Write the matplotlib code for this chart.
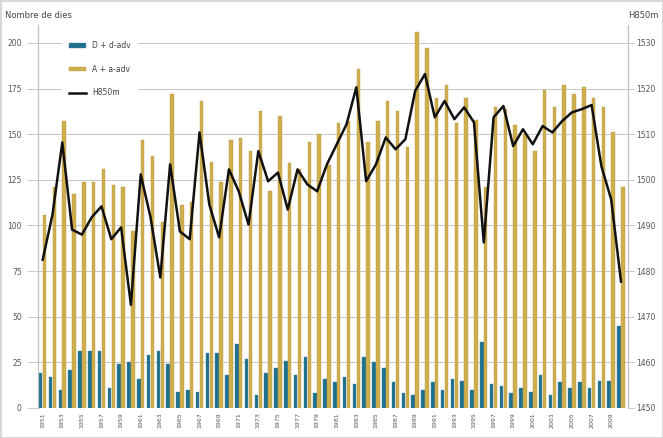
import numpy as np
import matplotlib.pyplot as plt

years = list(range(1951, 2011))

# D + d-adv (dies)
d_adv = [19, 17, 10, 21, 31, 31, 31, 11, 24, 25,
         16, 29, 31, 24, 9, 10, 9, 30, 30, 18,
         35, 27, 7, 19, 22, 26, 18, 28, 8, 16,
         14, 17, 13, 28, 25, 22, 14, 8, 7, 10,
         14, 10, 16, 15, 10, 36, 13, 12, 8, 11,
         9, 18, 7, 14, 11, 14, 11, 15, 15, 45]

# A + a-adv (dies)
a_adv = [106, 121, 157, 117, 124, 124, 131, 122, 121, 97,
         147, 138, 102, 172, 111, 113, 168, 135, 124, 147,
         148, 141, 163, 119, 160, 134, 131, 146, 150, 133,
         156, 157, 186, 146, 157, 168, 163, 143, 206, 197,
         170, 177, 156, 170, 158, 121, 165, 164, 155, 150,
         141, 174, 165, 177, 172, 176, 170, 165, 151, 121]

# H850m (m)
h850 = [1482.5, 1492.4, 1508.2, 1489.1, 1488.0, 1491.8, 1494.2, 1487.0, 1489.6, 1472.6,
        1501.2, 1491.8, 1478.6, 1503.4, 1488.7, 1487.0, 1510.4, 1494.6, 1487.4, 1502.3,
        1497.5, 1490.2, 1506.3, 1499.7, 1501.6, 1493.5, 1502.3, 1499.0, 1497.5, 1503.4,
        1507.8, 1512.2, 1520.3, 1499.7, 1503.4, 1509.3, 1506.7, 1508.9, 1519.5, 1523.2,
        1513.7, 1517.3, 1513.3, 1515.9, 1512.6, 1486.3, 1513.7, 1516.2, 1507.4, 1511.1,
        1507.8, 1511.8, 1510.4, 1512.9, 1514.8, 1515.5, 1516.4, 1503.0, 1495.7, 1477.7]

left_ticks = [0, 25, 50, 75, 100, 125, 150, 175, 200]
right_ticks = [1450, 1460, 1470, 1480, 1490, 1500, 1510, 1520, 1530]

blue = '#1d6f8e'
gold = '#cfae4e'

fig = plt.figure(figsize=(6.63, 4.38), dpi=100)
fig.patch.set_edgecolor('#d8d8d8')
fig.patch.set_linewidth(2)
ax = fig.add_axes([0.057, 0.0685, 0.89, 0.875])
ax2 = ax.twinx()

x = np.array(years)
w = 0.36
b1 = ax.bar(x - 0.2, d_adv, w, color=blue, edgecolor='#5a8fa0', linewidth=0.3,
            label='D + d-adv', zorder=3)
b2 = ax.bar(x + 0.2, a_adv, w, color=gold, edgecolor='#b89a45', linewidth=0.3,
            label='A + a-adv', zorder=3)
ln, = ax2.plot(x, h850, color='#111111', lw=1.8, label='H850m', zorder=4)

ax.set_ylim(0, 210)
ax2.set_ylim(1450, 1450 + 80 * 210 / 200)
ax.set_xlim(1950.5, 2010.7)
ax.set_yticks(left_ticks)
ax2.set_yticks(right_ticks)
ax.set_xticks(years[::2])
ax.set_xticklabels([str(y) for y in years[::2]], rotation=90, fontsize=4.5, color='#555555')
ax.tick_params(axis='y', labelsize=5.5, colors='#555555', length=8, width=0.6)
ax2.tick_params(axis='y', labelsize=5.5, colors='#555555', length=4, width=0.6, pad=2)
ax.tick_params(axis='x', length=0, pad=3)
ax.tick_params(axis='y', color='#c0c0c0')
ax2.tick_params(axis='y', color='#c0c0c0')
ax.grid(axis='y', color='#c8c8c8', lw=0.7, zorder=0)

for a in (ax, ax2):
    a.spines['top'].set_visible(False)
    a.spines['bottom'].set_visible(False)
    a.spines['left'].set_color('#c0c0c0')
    a.spines['right'].set_color('#c0c0c0')

ax.set_zorder(ax2.get_zorder() - 1)
ax2.patch.set_visible(False)

fig.text(0.008, 0.955, 'Nombre de dies', fontsize=6, color='#444444', ha='left', va='bottom')
fig.text(0.993, 0.955, 'H850m', fontsize=6, color='#444444', ha='right', va='bottom')

leg = ax2.legend([b1, b2, ln], ['D + d-adv', 'A + a-adv', 'H850m'],
                 loc='upper left', bbox_to_anchor=(0.035, 0.985), fontsize=5.5,
                 frameon=True, framealpha=1, edgecolor='white', labelspacing=1.9,
                 handlelength=2.2, handleheight=0.6, borderpad=0.9, labelcolor='#444444')
leg.get_frame().set_linewidth(0)

fig.savefig('out.png', dpi=100)
